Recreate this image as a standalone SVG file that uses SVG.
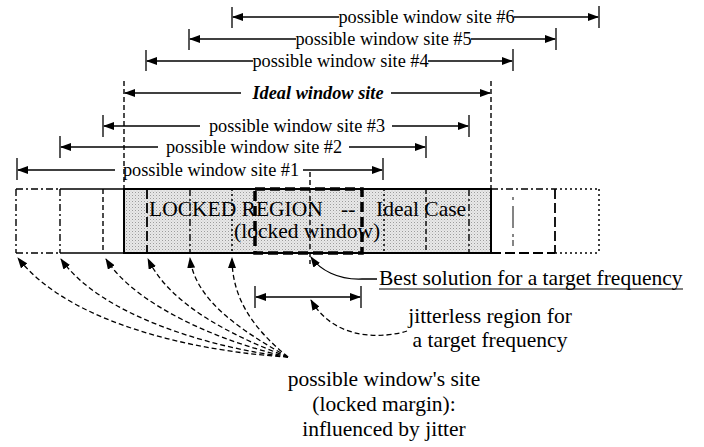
<svg xmlns="http://www.w3.org/2000/svg" width="704" height="447" viewBox="0 0 704 447">
<defs>
<style>
text{font-family:"Liberation Serif","Times New Roman",serif;fill:#000}
.lab{font-size:18.3px}
.body{font-size:21.5px}
.ln{stroke:#000;stroke-width:1.5;fill:none}
.tk{stroke:#000;stroke-width:1.3;fill:none}
.dsh{stroke:#000;stroke-width:1.4;fill:none;stroke-dasharray:5,3}
.dd{stroke:#000;stroke-width:1.4;fill:none;stroke-dasharray:7,3,2,3}
.dot{stroke:#000;stroke-width:1.5;fill:none;stroke-dasharray:2,3}
.ldash{stroke:#000;stroke-width:1.8;fill:none;stroke-dasharray:10,4}
.cur{stroke:#000;stroke-width:1.3;fill:none;stroke-dasharray:5,3}
</style>
<marker id="ah" markerWidth="11" markerHeight="8" refX="10" refY="4" orient="auto" markerUnits="userSpaceOnUse">
<path d="M0,0 L11,4 L0,8 z" fill="#000"/>
</marker>
<pattern id="ht" width="3" height="3" patternUnits="userSpaceOnUse">
<rect width="3" height="3" fill="#e8e8e8"/>
<rect width="1" height="1" fill="#9c9c9c"/>
<rect x="1.5" y="1.5" width="1" height="1" fill="#c4c4c4"/>
</pattern>
</defs>

<g id="site6">
<path class="tk" d="M232,7V28 M599,6V28"/>
<path class="ln" d="M339,17H233" marker-end="url(#ah)"/>
<path class="ln" d="M514,17H598" marker-end="url(#ah)"/>
<text class="lab" x="426.5" y="23" text-anchor="middle">possible window site #6</text>
</g>
<g id="site5">
<path class="tk" d="M189,29V50 M556,28V50"/>
<path class="ln" d="M296,39H190" marker-end="url(#ah)"/>
<path class="ln" d="M471,39H555" marker-end="url(#ah)"/>
<text class="lab" x="383.5" y="45" text-anchor="middle">possible window site #5</text>
</g>
<g id="site4">
<path class="tk" d="M146,50V71 M513,49V71"/>
<path class="ln" d="M253,61H147" marker-end="url(#ah)"/>
<path class="ln" d="M428,61H512" marker-end="url(#ah)"/>
<text class="lab" x="340.5" y="67" text-anchor="middle">possible window site #4</text>
</g>
<g id="ideal">
<path class="dsh" d="M124,81V189 M491,81V189"/>
<path class="ln" d="M241,93H125" marker-end="url(#ah)"/>
<path class="ln" d="M391,93H490" marker-end="url(#ah)"/>
<text class="lab" x="318" y="99" text-anchor="middle" font-weight="bold" font-style="italic">Ideal window site</text>
</g>
<g id="site3">
<path class="tk" d="M103,115V137 M469,115V137"/>
<path class="ln" d="M200,126H104" marker-end="url(#ah)"/>
<path class="ln" d="M392,126H468" marker-end="url(#ah)"/>
<text class="lab" x="297" y="132" text-anchor="middle">possible window site #3</text>
</g>
<g id="site2">
<path class="tk" d="M60,136V158 M426,136V158"/>
<path class="ln" d="M158,147H61" marker-end="url(#ah)"/>
<path class="ln" d="M349,147H425" marker-end="url(#ah)"/>
<text class="lab" x="254" y="153" text-anchor="middle">possible window site #2</text>
</g>
<g id="site1">
<path class="tk" d="M17,158V180 M383,158V180"/>
<path class="ln" d="M115,170H18" marker-end="url(#ah)"/>
<path class="ln" d="M303,170H382" marker-end="url(#ah)"/>
<text class="lab" x="211" y="176" text-anchor="middle">possible window site #1</text>
</g>

<g id="locked-region">
<rect x="124" y="189" width="367" height="64" fill="url(#ht)" stroke="#000" stroke-width="2"/>
<path class="ldash" d="M147,189V253"/>
<path class="dd" d="M190,189V253"/>
<path class="dot" d="M232,189V253"/>
<path class="dot" d="M384,189V253"/>
<path class="dsh" d="M426,189V253"/>
<path class="dd" d="M469,189V253" stroke-width="1.8"/>
<text class="body" x="149" y="216">LOCKED REGION</text>
<text class="body" x="341" y="216">--</text>
<text class="body" x="376" y="216">Ideal Case</text>
<text class="body" x="234" y="238">(locked window)</text>
</g>

<g id="left-margin">
<path class="dd" d="M16,189H60 M16,253H60 M16,189V253"/>
<path class="ln" d="M60,189H124 M60,253H124" stroke-width="1.4"/>
<path class="dd" d="M60,189V253" stroke-dasharray="9,3,2,3"/>
<path class="dsh" d="M103,189V253"/>
</g>

<g id="right-margin">
<path class="dd" d="M491,189H555" stroke-dasharray="12,4,4,4"/>
<path class="ldash" d="M491,253H555" stroke-width="1.4"/>
<path class="ldash" d="M555,189V253" stroke-width="2"/>
<path class="dot" d="M555,189H599 M555,253H599 M599,189V253"/>
<path d="M513,197V248" stroke="#666" stroke-width="1.6" fill="none" stroke-dasharray="3,6,22,6,3"/>
</g>

<g id="best-window">
<rect x="255" y="189" width="107" height="64" fill="none" stroke="#000" stroke-width="3.5" stroke-dasharray="10,5"/>
<path class="dsh" d="M310,172V264"/>
</g>

<g id="best-label">
<text class="body" x="379" y="285">Best solution for a target frequency</text>
<path d="M379,289H683" stroke="#000" stroke-width="1.2"/>
</g>

<g id="jitterless">
<path class="tk" d="M255,286V308 M361,286V308"/>
<path class="ln" d="M300,297H256" marker-end="url(#ah)"/>
<path class="ln" d="M300,297H360" marker-end="url(#ah)"/>
<text class="body" x="490" y="323" text-anchor="middle">jitterless region for</text>
<text class="body" x="490" y="347" text-anchor="middle">a target frequency</text>
</g>

<g id="margin-label">
<text class="body" x="384" y="386" text-anchor="middle">possible window's site</text>
<text class="body" x="384" y="411" text-anchor="middle">(locked margin):</text>
<text class="body" x="384" y="436" text-anchor="middle">influenced by jitter</text>
</g>

<g id="connectors">
<path d="M377,279H362C338,280 320,270 311,257" stroke="#000" stroke-width="1.3" fill="none" marker-end="url(#ah)"/>
<path class="cur" d="M407,331C385,338 335,342 311,300" marker-end="url(#ah)"/>
<path class="cur" d="M288,357C200,352 70,325 18,258" marker-end="url(#ah)"/>
<path class="cur" d="M288,357C210,348 100,315 61,259" marker-end="url(#ah)"/>
<path class="cur" d="M288,357C220,342 135,305 106,259" marker-end="url(#ah)"/>
<path class="cur" d="M288,357C232,336 170,305 148,259" marker-end="url(#ah)"/>
<path class="cur" d="M288,357C240,330 195,300 190,258" marker-end="url(#ah)"/>
<path class="cur" d="M288,357C255,330 232,300 232,258" marker-end="url(#ah)"/>
</g>
</svg>
